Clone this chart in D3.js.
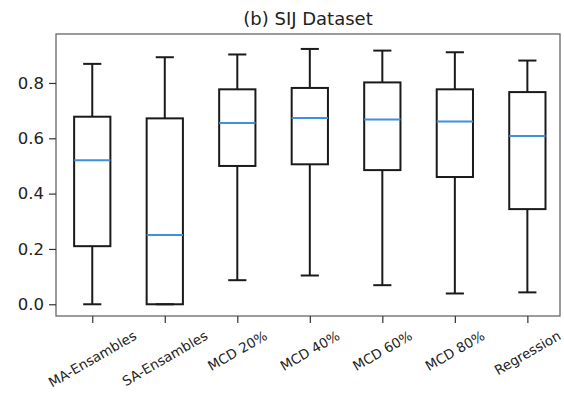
<!DOCTYPE html>
<html>
<head>
<meta charset="utf-8">
<script src="https://cdn.jsdelivr.net/npm/d3@7"></script>
<style>
  html, body { margin: 0; padding: 0; background: #fff; }
  svg { display: block; }
  text { font-family: "DejaVu Sans", sans-serif; fill: #222; }
</style>
</head>
<body>
<svg id="chart" width="564" height="399"></svg>
<script>
// ---- data ----
const categories = ["MA-Ensambles", "SA-Ensambles", "MCD 20%", "MCD 40%", "MCD 60%", "MCD 80%", "Regression"];
const whiskerLow  = [0.000, 0.000, 0.087, 0.104, 0.069, 0.039, 0.043];
const q1          = [0.210, 0.000, 0.500, 0.506, 0.485, 0.460, 0.344];
const median      = [0.521, 0.250, 0.655, 0.673, 0.668, 0.661, 0.608];
const q3          = [0.678, 0.672, 0.777, 0.782, 0.802, 0.777, 0.767];
const whiskerHigh = [0.869, 0.893, 0.903, 0.923, 0.917, 0.911, 0.881];
const yTicks      = [0.0, 0.2, 0.4, 0.6, 0.8];
const title       = "(b) SIJ Dataset";

// ---- layout ----
const plot = { left: 56, right: 560, top: 34, bottom: 316 };
const svg = d3.select("#chart");

const x = d3.scaleLinear().domain([0.5, 7.45]).range([plot.left, plot.right]);
const y = d3.scaleLinear().domain([-0.0424, 0.977]).range([plot.bottom, plot.top]);

const boxes = categories.map((c, i) => ({
  name: c, pos: i + 1,
  lo: whiskerLow[i], q1: q1[i], med: median[i], q3: q3[i], hi: whiskerHigh[i]
}));

const boxW = x(1.25) - x(0.75);
const capW = boxW / 2;
const lw = 2;

const g = svg.append("g");

// whiskers
g.selectAll(".wlow").data(boxes).join("line")
  .attr("x1", d => x(d.pos)).attr("x2", d => x(d.pos))
  .attr("y1", d => y(d.q1)).attr("y2", d => y(d.lo))
  .attr("stroke", "#1a1a1a").attr("stroke-width", lw);
g.selectAll(".whigh").data(boxes).join("line")
  .attr("x1", d => x(d.pos)).attr("x2", d => x(d.pos))
  .attr("y1", d => y(d.q3)).attr("y2", d => y(d.hi))
  .attr("stroke", "#1a1a1a").attr("stroke-width", lw);
// caps
g.selectAll(".clow").data(boxes).join("line")
  .attr("x1", d => x(d.pos) - capW / 2).attr("x2", d => x(d.pos) + capW / 2)
  .attr("y1", d => y(d.lo)).attr("y2", d => y(d.lo))
  .attr("stroke", "#1a1a1a").attr("stroke-width", lw);
g.selectAll(".chigh").data(boxes).join("line")
  .attr("x1", d => x(d.pos) - capW / 2).attr("x2", d => x(d.pos) + capW / 2)
  .attr("y1", d => y(d.hi)).attr("y2", d => y(d.hi))
  .attr("stroke", "#1a1a1a").attr("stroke-width", lw);
// boxes
g.selectAll(".box").data(boxes).join("rect")
  .attr("x", d => x(d.pos) - boxW / 2).attr("width", boxW)
  .attr("y", d => y(d.q3)).attr("height", d => y(d.q1) - y(d.q3))
  .attr("fill", "none").attr("stroke", "#1a1a1a").attr("stroke-width", lw);
// medians
g.selectAll(".med").data(boxes).join("line")
  .attr("x1", d => x(d.pos) - boxW / 2).attr("x2", d => x(d.pos) + boxW / 2)
  .attr("y1", d => y(d.med)).attr("y2", d => y(d.med))
  .attr("stroke", "#3d8fe3").attr("stroke-width", lw);

// frame
svg.append("rect")
  .attr("x", plot.left).attr("y", plot.top)
  .attr("width", plot.right - plot.left).attr("height", plot.bottom - plot.top)
  .attr("fill", "none").attr("stroke", "#666").attr("stroke-width", 1.3);

// y axis
const yAxis = d3.axisLeft(y).tickValues(yTicks).tickFormat(d3.format(".1f"))
  .tickSize(7).tickPadding(5);
const yg = svg.append("g").attr("transform", `translate(${plot.left},0)`).call(yAxis);
yg.select(".domain").remove();
yg.selectAll(".tick line").attr("stroke", "#333").attr("stroke-width", 1.2);
yg.selectAll(".tick text").attr("font-size", 16.5).attr("fill", "#222")
  .attr("font-family", "DejaVu Sans, sans-serif");

// x axis ticks
const xAxis = d3.axisBottom(x).tickValues(boxes.map(d => d.pos)).tickFormat("").tickSize(7);
const xg = svg.append("g").attr("transform", `translate(0,${plot.bottom})`).call(xAxis);
xg.select(".domain").remove();
xg.selectAll(".tick line").attr("stroke", "#333").attr("stroke-width", 1.2);

// x labels rotated 30 deg, bbox centred under tick (matplotlib style)
const labelTop = plot.bottom + 7 + 5;
const fs = 13.5;
const ang = 30 * Math.PI / 180;
boxes.forEach(d => {
  const t = svg.append("text")
    .attr("font-size", fs)
    .attr("text-anchor", "middle")
    .attr("dominant-baseline", "central")
    .text(d.name);
  const L = t.node().getComputedTextLength();
  const h = fs * 1.05;
  const H = L * Math.sin(ang) + h * Math.cos(ang);
  const cx = x(d.pos), cy = labelTop + H / 2;
  t.attr("transform", `translate(${cx},${cy}) rotate(-30)`);
});

// title
svg.append("text")
  .attr("x", (plot.left + plot.right) / 2).attr("y", 25)
  .attr("text-anchor", "middle").attr("font-size", 18)
  .text(title);
</script>
</body>
</html>
